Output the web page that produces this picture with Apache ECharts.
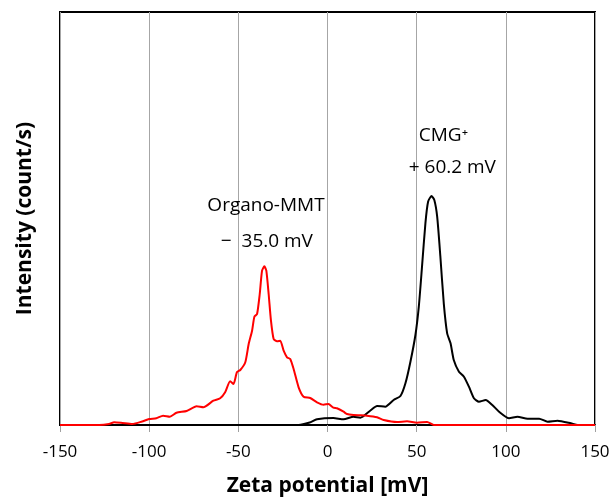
<!DOCTYPE html>
<html>
<head>
<meta charset="utf-8">
<script src="https://cdn.jsdelivr.net/npm/echarts@6/dist/echarts.min.js"></script>
<style>html,body{margin:0;padding:0;background:#fff;}#c{width:609px;height:497px;}</style>
</head>
<body>
<div id="c"></div>
<script>
var xTicks = [-150, -100, -50, 0, 50, 100, 150];

var mmtX = [-150, -128, -122.5, -119.6, -115, -109.5, -104, -100, -96, -92.2, -88.4, -84.7, -79, -73.4, -69.6, -64, -60.2, -57.4, -54.6, -52.7, -50.8, -48.9, -46.1, -44.2, -42.3, -41, -39.5, -38, -36.7, -35.4, -34.3, -33, -31.7, -30.2, -28.3, -26.5, -24.6, -22.7, -20.9, -19, -16.2, -13.4, -9.7, -5.9, -2.2, 0.5, 3.3, 5.3, 9, 10.9, 14.6, 18.4, 22.1, 27.8, 31.5, 39, 44.6, 50.2, 55.9, 59.6, 150];
var mmtY = [0, 0, 1, 2.7, 2, 1, 3.5, 6, 6.7, 9.3, 8.3, 12.3, 14, 18.7, 17.7, 24.3, 26.7, 32.7, 43.7, 41, 52.7, 55, 62.7, 81, 94.3, 108.3, 111, 131, 154.3, 158.7, 154.3, 131, 104.3, 86, 83.7, 84.3, 74.3, 67.7, 66, 56, 37.7, 28.3, 27, 22.7, 20.3, 21, 17.3, 16.7, 13.3, 11, 10, 9.7, 9.3, 7.7, 5, 3, 3.7, 2.3, 3, 0, 0];

var cmgX = [-150, -16.2, -10, -5.9, 3.3, 9, 14.6, 18.4, 23.9, 27.8, 32.4, 37.1, 40.9, 43.7, 46.5, 49.3, 51.2, 53, 54.9, 56.4, 58.3, 59.9, 61.5, 63.3, 65.2, 67.1, 69, 70.8, 73.7, 76.5, 79.3, 82.1, 84.9, 88.7, 92.4, 96.2, 101.8, 106.5, 112.2, 118.7, 123.4, 129, 136.5, 140.3, 150];
var cmgY = [0, 0, 2.5, 5.7, 7, 5.7, 8.3, 7.3, 14.3, 19, 18.3, 25, 29, 41.7, 63.3, 90, 118.3, 158.3, 201.7, 223.3, 229, 225, 208.3, 168.3, 121.7, 91.7, 81.7, 65, 53.3, 48.3, 38.3, 26.7, 23.3, 25, 20, 13.3, 6.7, 8.3, 6.3, 6.3, 3.3, 4.3, 1.7, 0, 0];

var labels = [
  {text: 'Organo-MMT', x: -34.5, y: 219},
  {text: '\u2212  35.0 mV', x: -34, y: 183},
  {text: 'CMG\u207A', x: 65, y: 289},
  {text: '+ 60.2 mV', x: 70, y: 257}
];

function pairs(xs, ys) { return xs.map(function (x, i) { return [x, ys[i]]; }); }

var FONT = '"Open Sans", "Noto Sans", sans-serif';
var chart = echarts.init(document.getElementById('c'), null, {renderer: 'canvas'});
chart.setOption({
  animation: false,
  backgroundColor: '#fff',
  grid: {left: 60, right: 14, top: 12, bottom: 72, show: true, borderColor: '#000', borderWidth: 2,
    backgroundColor: 'transparent', containLabel: false, outerBoundsMode: 'none'},
  xAxis: {
    type: 'value', min: xTicks[0], max: xTicks[xTicks.length - 1], interval: 50,
    name: 'Zeta potential [mV]', nameLocation: 'middle', nameGap: 51,
    nameTextStyle: {fontFamily: FONT, fontSize: 21, fontWeight: 'bold', color: '#000'},
    axisLine: {show: true, lineStyle: {color: '#000', width: 2}},
    axisTick: {show: true, length: 7, lineStyle: {color: '#a0a0a0'}},
    axisLabel: {fontFamily: FONT, fontSize: 17, color: '#000', margin: 19},
    splitLine: {show: true, lineStyle: {color: '#a6a6a6', width: 1}}
  },
  yAxis: {
    type: 'value', min: 0, max: 413,
    name: 'Intensity (count/s)', nameLocation: 'middle', nameGap: 24,
    nameTextStyle: {fontFamily: FONT, fontSize: 21, fontWeight: 'bold', color: '#000'},
    axisLine: {show: false}, axisTick: {show: false}, axisLabel: {show: false},
    splitLine: {show: false}
  },
  series: [
    {
      name: 'CMG+', type: 'line', data: pairs(cmgX, cmgY), symbol: 'none', smooth: 0.2,
      lineStyle: {color: '#000', width: 2}, itemStyle: {color: '#000'}, z: 2
    },
    {
      name: 'Organo-MMT', type: 'line', data: pairs(mmtX, mmtY), symbol: 'none', smooth: 0.2,
      lineStyle: {color: '#ff0000', width: 2}, itemStyle: {color: '#ff0000'}, z: 3,
      markPoint: {
        symbol: 'circle', symbolSize: 0, silent: true,
        label: {show: true, position: 'inside', fontFamily: FONT, fontSize: 19, color: '#000',
          formatter: function (p) { return p.name; }},
        data: labels.map(function (l) { return {name: l.text, coord: [l.x, l.y]}; })
      }
    }
  ]
});
</script>
</body>
</html>
